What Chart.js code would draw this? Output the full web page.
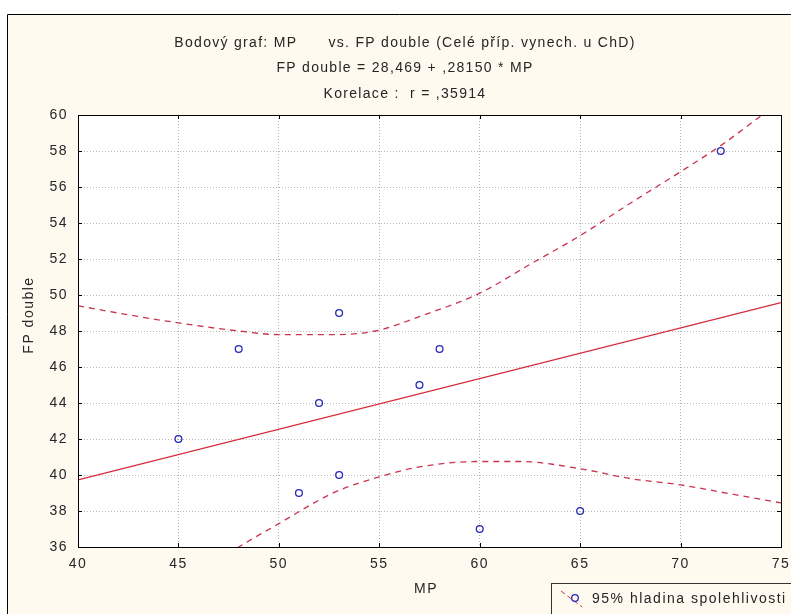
<!DOCTYPE html>
<html>
<head>
<meta charset="utf-8">
<script src="https://cdn.jsdelivr.net/npm/chart.js@4.4.0/dist/chart.umd.min.js"></script>
<style>
  html, body { margin: 0; padding: 0; background: #fff; }
  #wrap { width: 791px; height: 614px; }
</style>
</head>
<body>
<div id="wrap"><canvas id="chart" width="791" height="614"></canvas></div>
<script>
// scatter: MP vs FP double
const mpValues = [45, 48, 51, 52, 53, 53, 57, 58, 60, 65, 72];
const fpValues = [42, 47, 39, 44, 49, 40, 45, 47, 37, 38, 58];

// regression line  FP double = 28,469 + ,28150 * MP
const fitX = [40, 75];
const fitY = [39.73, 49.58];

// 95% confidence band
const upperX = [40, 42.5, 45, 48, 50, 53, 55, 57, 60, 62.5, 65, 67.5, 70, 72, 75];
const upperY = [49.4, 48.9, 48.45, 48.0, 47.8, 47.8, 48.05, 48.8, 50.1, 51.7, 53.3, 55.1, 56.85, 58.3, 60.8];
const lowerX = [47, 48, 50, 52, 53, 55, 57, 60, 62, 65, 67.5, 70, 72.5, 75];
const lowerY = [35.3, 36.0, 37.3, 38.6, 39.15, 39.9, 40.45, 40.75, 40.75, 40.35, 39.8, 39.45, 38.95, 38.45];

const titleLines = [
    'Bodový graf: MP      vs. FP double (Celé příp. vynech. u ChD)',
    'FP double = 28,469 + ,28150 * MP',
    'Korelace :  r = ,35914'
];
const xTitle = 'MP';
const yTitle = 'FP double';
const legendLabel = '95% hladina spolehlivosti';

const FONT = "'Liberation Sans', Arial, sans-serif";
const TEXT = '#262626';
const BLUE = '#2727b8';
const RED = '#d62839';
const DASH_RED = '#c9344e';

function toPoints(xs, ys) {
    return xs.map((x, i) => ({ x: x, y: ys[i] }));
}

// background, frame, inner ticks, titles and legend
const decor = {
    id: 'decor',
    beforeDraw(chart) {
        const ctx = chart.ctx;
        const a = chart.chartArea;
        ctx.letterSpacing = '1.5px';
        ctx.save();
        ctx.fillStyle = '#ffffff';
        ctx.fillRect(0, 0, chart.width, chart.height);
        ctx.fillStyle = '#fefaef';
        ctx.fillRect(7, 14, chart.width, chart.height);
        ctx.strokeStyle = '#000';
        ctx.lineWidth = 1;
        ctx.beginPath();
        ctx.moveTo(7.5, chart.height);
        ctx.lineTo(7.5, 14.5);
        ctx.lineTo(chart.width, 14.5);
        ctx.stroke();
        ctx.fillStyle = '#ffffff';
        ctx.fillRect(a.left, a.top, a.right - a.left, a.bottom - a.top);
        ctx.restore();
    },
    afterDraw(chart) {
        const ctx = chart.ctx;
        const a = chart.chartArea;
        const xs = chart.scales.x;
        const ys = chart.scales.y;
        ctx.save();
        // plot box
        ctx.strokeStyle = '#000';
        ctx.lineWidth = 1;
        ctx.strokeRect(Math.round(a.left) + 0.5, Math.round(a.top) + 0.5,
            Math.round(a.right - a.left), Math.round(a.bottom - a.top));
        // ticks pointing inwards
        ctx.beginPath();
        xs.ticks.forEach(t => {
            const px = Math.round(xs.getPixelForValue(t.value)) + 0.5;
            ctx.moveTo(px, a.bottom); ctx.lineTo(px, a.bottom - 4);
            ctx.moveTo(px, a.top); ctx.lineTo(px, a.top + 4);
        });
        ys.ticks.forEach(t => {
            const py = Math.round(ys.getPixelForValue(t.value)) + 0.5;
            ctx.moveTo(a.left, py); ctx.lineTo(a.left + 4, py);
            ctx.moveTo(a.right, py); ctx.lineTo(a.right - 4, py);
        });
        ctx.stroke();

        // titles
        ctx.letterSpacing = '1.3px';
        ctx.fillStyle = TEXT;
        ctx.font = '14px ' + FONT;
        ctx.textAlign = 'center';
        ctx.textBaseline = 'alphabetic';
        const base = [47, 72, 98];
        titleLines.forEach((line, i) => ctx.fillText(line, 405, base[i]));

        ctx.letterSpacing = '1.5px';
        ctx.fillText(xTitle, 426, 593);
        ctx.save();
        ctx.translate(33, 315);
        ctx.rotate(-Math.PI / 2);
        ctx.fillText(yTitle, 0, 0);
        ctx.restore();

        // legend box
        ctx.strokeStyle = '#333';
        ctx.strokeRect(551.5, 583.5, 400, 100);
        ctx.strokeStyle = DASH_RED;
        ctx.setLineDash([5, 3]);
        ctx.beginPath();
        ctx.moveTo(561, 591);
        ctx.lineTo(582, 607);
        ctx.stroke();
        ctx.setLineDash([]);
        ctx.strokeStyle = BLUE;
        ctx.lineWidth = 1.3;
        ctx.beginPath();
        ctx.arc(575, 598, 3.3, 0, Math.PI * 2);
        ctx.stroke();
        ctx.textAlign = 'left';
        ctx.fillStyle = TEXT;
        ctx.fillText(legendLabel, 592, 603);
        ctx.restore();
    }
};

Chart.defaults.font.family = FONT;
Chart.defaults.font.size = 14;
Chart.defaults.color = TEXT;

const gridStyle = { color: '#b8b8b8', lineWidth: 1, drawTicks: false };
const borderStyle = { display: false, dash: [1, 2] };

new Chart(document.getElementById('chart'), {
    type: 'scatter',
    data: {
        datasets: [
            {
                label: 'MP vs FP double',
                data: toPoints(mpValues, fpValues),
                pointStyle: 'circle',
                pointRadius: 3.4,
                pointBorderWidth: 1.3,
                borderColor: BLUE,
                backgroundColor: 'rgba(0,0,0,0)',
                showLine: false
            },
            {
                label: 'regrese',
                data: toPoints(fitX, fitY),
                showLine: true,
                pointRadius: 0,
                borderColor: RED,
                borderWidth: 1.2
            },
            {
                label: legendLabel,
                data: toPoints(upperX, upperY),
                showLine: true,
                pointRadius: 0,
                borderColor: DASH_RED,
                borderWidth: 1.3,
                borderDash: [6, 5],
                cubicInterpolationMode: 'monotone'
            },
            {
                label: legendLabel + ' (dolní)',
                data: toPoints(lowerX, lowerY),
                showLine: true,
                pointRadius: 0,
                borderColor: DASH_RED,
                borderWidth: 1.3,
                borderDash: [6, 5],
                cubicInterpolationMode: 'monotone'
            }
        ]
    },
    options: {
        responsive: false,
        animation: false,
        layout: { padding: { left: 12, right: 10, top: 115, bottom: 0 } },
        plugins: {
            legend: { display: false },
            title: { display: false },
            tooltip: { enabled: false }
        },
        scales: {
            x: {
                type: 'linear',
                min: 40,
                max: 75,
                ticks: { stepSize: 5, padding: 9, color: TEXT },
                grid: gridStyle,
                border: borderStyle,
                afterFit: s => { s.height = 67; s.paddingLeft = 0; s.paddingRight = 0; }
            },
            y: {
                type: 'linear',
                min: 36,
                max: 60,
                ticks: { stepSize: 2, padding: 10, color: TEXT },
                grid: gridStyle,
                border: borderStyle,
                afterFit: s => { s.width = 66; s.paddingTop = 0; s.paddingBottom = 0; }
            }
        }
    },
    plugins: [decor]
});
</script>
</body>
</html>
